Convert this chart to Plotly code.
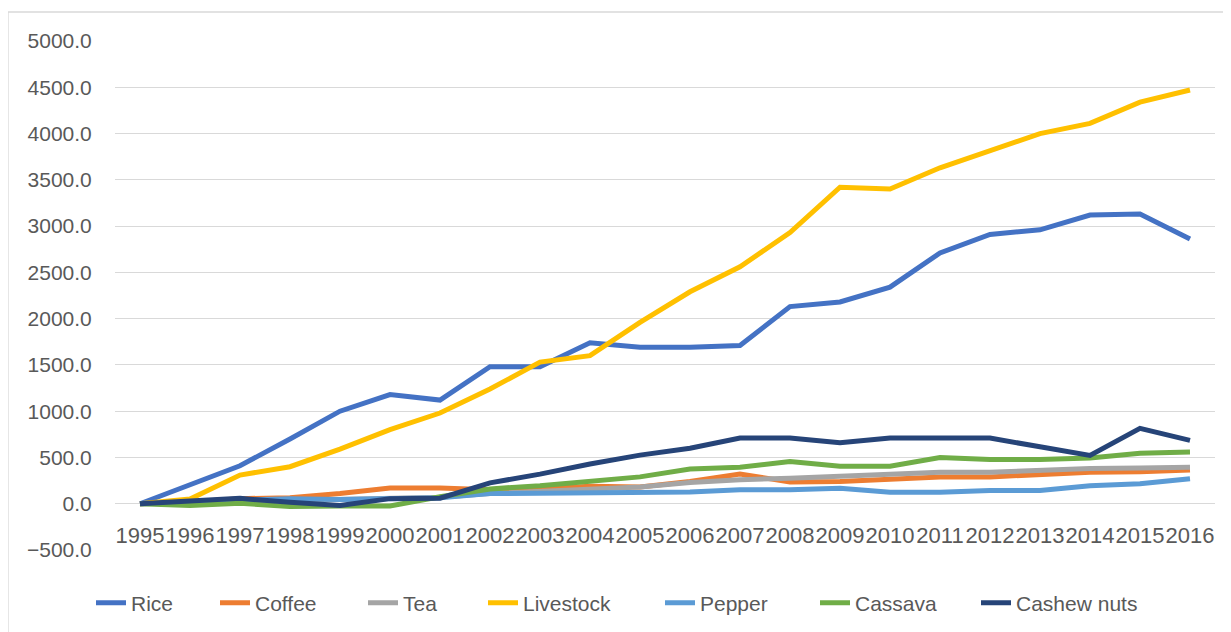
import plotly.graph_objects as go

years = [str(y) for y in range(1995, 2017)]

rice = [0, 210, 410, 700, 1000, 1180, 1120, 1480, 1480, 1740, 1690, 1690, 1710, 2130, 2180, 2340, 2710, 2910, 2960, 3120, 3130, 2860]
coffee = [0, 20, 55, 65, 110, 170, 170, 150, 160, 190, 180, 240, 320, 235, 240, 260, 290, 290, 315, 340, 345, 365]
tea = [0, 10, 30, 40, 40, 50, 70, 110, 130, 150, 180, 230, 260, 275, 295, 320, 340, 340, 360, 380, 385, 395]
livestock = [0, 50, 310, 400, 590, 800, 980, 1240, 1530, 1600, 1960, 2290, 2560, 2930, 3420, 3400, 3630, 3810, 4000, 4110, 4340, 4470]
pepper = [0, 10, 40, 55, 45, 55, 65, 110, 115, 115, 130, 128, 150, 150, 168, 124, 124, 142, 142, 193, 215, 270]
cassava = [0, -20, 5, -30, -25, -25, 75, 160, 195, 245, 290, 375, 395, 455, 405, 405, 500, 478, 478, 493, 545, 560]
cashew = [0, 30, 58, 15, -20, 55, 60, 225, 320, 430, 525, 600, 710, 710, 660, 710, 710, 710, 615, 522, 815, 685]

series_names = ["Rice", "Coffee", "Tea", "Livestock", "Pepper", "Cassava", "Cashew nuts"]
series_values = [rice, coffee, tea, livestock, pepper, cassava, cashew]
colors = ["#4472C4", "#ED7D31", "#A5A5A5", "#FFC000", "#5B9BD5", "#70AD47", "#264478"]
legend_widths = [79, 103, 75, 132, 110, 116, 125]

FONT = "Liberation Sans"
TXT = "#595959"

# page body has an 8px margin, so the figure is drawn 8px smaller and offset
OFF = 8
W, H = 1231 - OFF, 632 - OFF
L, T = 115 - OFF, 41 - OFF
PW, PH = 1100, 509
R = W - L - PW
B = H - T - PH

fig = go.Figure()
for name, vals, col, lw in zip(series_names, series_values, colors, legend_widths):
    fig.add_trace(go.Scatter(
        x=years, y=vals, name=name, mode="lines",
        line=dict(color=col, width=5),
        legendwidth=lw,
    ))

ymin, ymax = -500, 5000
fig.update_layout(
    width=W, height=H,
    margin=dict(l=L, r=R, t=T, b=B, pad=0, autoexpand=False),
    paper_bgcolor="white", plot_bgcolor="white",
    font=dict(family=FONT, size=21, color=TXT),
    showlegend=True,
    legend=dict(
        orientation="h", x=(91 - 115) / PW, xanchor="left",
        y=-(603 - 550) / PH, yanchor="middle",
        font=dict(family=FONT, size=21, color=TXT),
        itemwidth=30, tracegroupgap=0,
    ),
    xaxis=dict(
        type="category", range=[-0.5, 21.5],
        showgrid=False, showline=False, zeroline=False,
        anchor="free", position=(0 - ymin) / (ymax - ymin),
        ticks="outside", ticklen=12, tickcolor="rgba(0,0,0,0)",
        tickangle=0,
        tickfont=dict(family=FONT, size=22, color=TXT),
        fixedrange=True,
    ),
    yaxis=dict(
        range=[ymin, ymax], dtick=500, tick0=0,
        tickformat=".1f",
        showgrid=True, gridcolor="#D9D9D9", gridwidth=1.3,
        zeroline=False, showline=False,
        ticks="outside", ticklen=18, tickcolor="rgba(0,0,0,0)",
        tickfont=dict(family=FONT, size=21, color=TXT),
        fixedrange=True,
    ),
    shapes=[
        dict(type="line", xref="paper", yref="paper",
             x0=(8 - 115) / PW, x1=(8 - 115) / PW,
             y0=(550 - 12) / PH, y1=(550 - 650) / PH,
             line=dict(color="#D9D9D9", width=1.3)),
        dict(type="line", xref="paper", yref="paper",
             x0=(8 - 115) / PW, x1=(1250 - 115) / PW,
             y0=(550 - 12) / PH, y1=(550 - 12) / PH,
             line=dict(color="#D9D9D9", width=1.3)),
    ],
)

fig.write_html("out.html")
